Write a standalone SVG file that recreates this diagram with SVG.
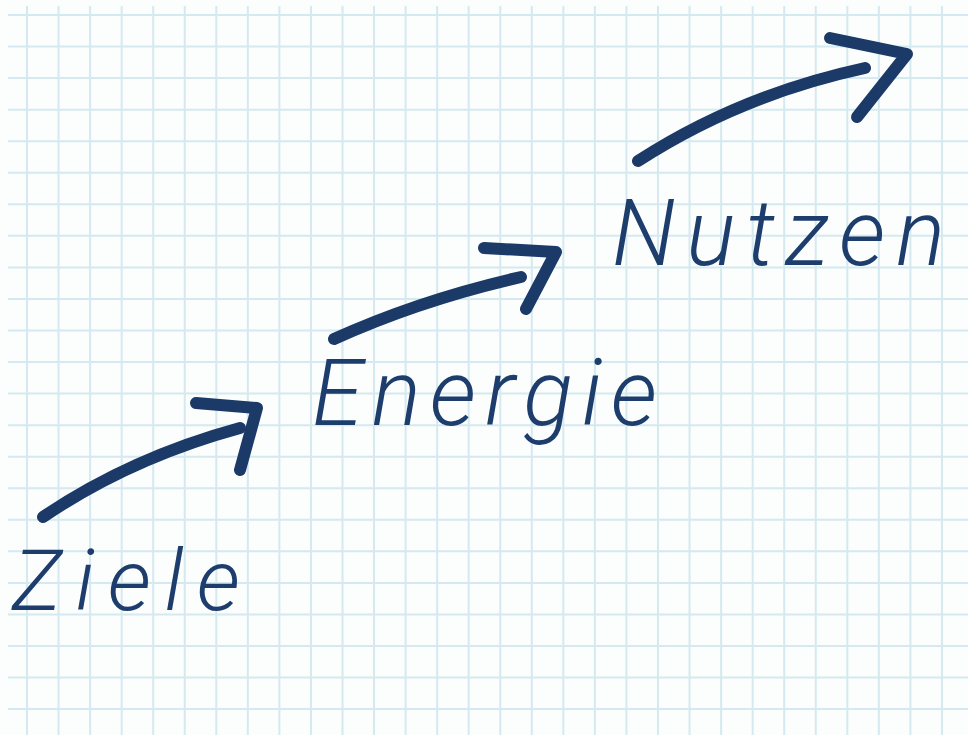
<svg xmlns="http://www.w3.org/2000/svg" width="968" height="735" viewBox="0 0 968 735">
<style>
.grid{stroke:#d4eaf0;stroke-width:2;fill:none}
.arrow{stroke:#1b3a68;stroke-width:12;fill:none;stroke-linecap:round;stroke-linejoin:round}
.word{font-family:Roboto,"Liberation Sans","DejaVu Sans",sans-serif;font-style:italic;font-weight:300;fill:#1d3d6d}
</style>
<rect width="968" height="735" fill="#fcfdfd"/>
<path class="grid" d="M27 6V735M58.55 6V735M90.1 6V735M121.65 6V735M153.2 6V735M184.75 6V735M216.3 6V735M247.85 6V735M279.4 6V735M310.95 6V735M342.5 6V735M374.05 6V735M405.6 6V735M437.15 6V735M468.7 6V735M500.25 6V735M531.8 6V735M563.35 6V735M594.9 6V735M626.45 6V735M658 6V735M689.55 6V735M721.1 6V735M752.65 6V735M784.2 6V735M815.75 6V735M847.3 6V735M878.85 6V735M910.4 6V735M941.95 6V735
M8 15H968M8 46.55H968M8 78.1H968M8 109.65H968M8 141.2H968M8 172.75H968M8 204.3H968M8 235.85H968M8 267.4H968M8 298.95H968M8 330.5H968M8 362.05H968M8 393.6H968M8 425.15H968M8 456.7H968M8 488.25H968M8 519.8H968M8 551.35H968M8 582.9H968M8 614.45H968M8 646H968M8 677.55H968M8 709.1H968"/>
<g id="connectors">
<g id="arrow1"><path class="arrow" d="M43 517Q130 458 240 428"/><path class="arrow" d="M196 403L257 408L240 470"/></g>
<g id="arrow2"><path class="arrow" d="M334 339Q420 300 521 277"/><path class="arrow" d="M484 248L556 252L526 309"/></g>
<g id="arrow3"><path class="arrow" d="M638 161Q740 95 865 68"/><path class="arrow" d="M830 38L907 54L857 117"/></g>
</g>
<g id="ziele"><text class="word" x="12" y="610" font-size="86" textLength="228" lengthAdjust="spacing">Ziele</text></g>
<g id="energie"><text class="word" x="312" y="425" font-size="92" textLength="345" lengthAdjust="spacing">Energie</text></g>
<g id="nutzen"><text class="word" x="612" y="265" font-size="92" textLength="333" lengthAdjust="spacing">Nutzen</text></g>
</svg>
